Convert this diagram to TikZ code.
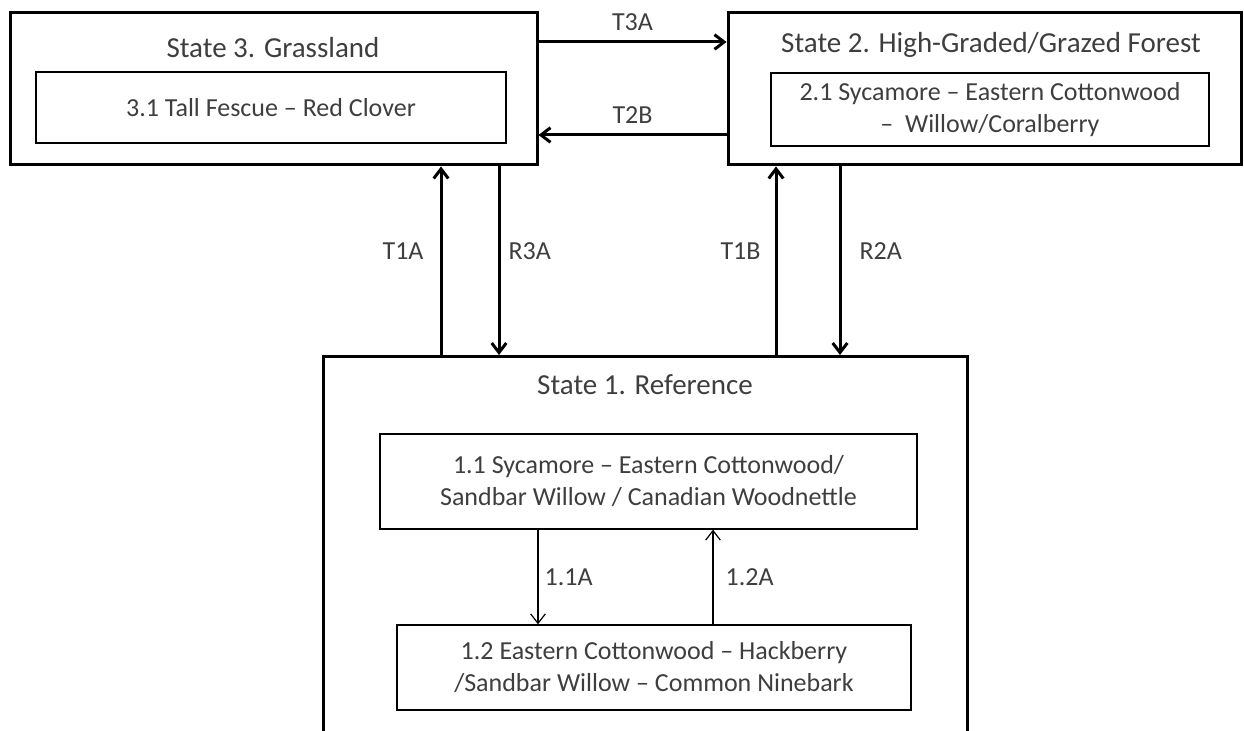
\documentclass[tikz,border=0pt]{standalone}
\usepackage{fontspec}
\setmainfont{Carlito}
\usetikzlibrary{arrows.meta,positioning}
\definecolor{inkgray}{RGB}{62,62,62}

\tikzset{
  statebox/.style={draw,line width=1.5pt,inner sep=0pt},
  phasebox/.style={draw,line width=0.6pt,align=center,text=inkgray,
    font=\fontsize{13}{16}\selectfont},
  heading/.style={text=inkgray,font=\fontsize{14.5}{17}\selectfont},
  lbl/.style={text=inkgray,font=\fontsize{13}{15}\selectfont,inner sep=1pt},
  thickarrow/.style={->,line width=1.5pt},
  thinarrow/.style={->,line width=0.6pt}
}

\begin{document}
\begin{tikzpicture}[x=0.5pt,y=-0.5pt,>={Straight Barb[angle=75:6pt]}]
  \useasboundingbox (0,0) rectangle (1244,731);
  \clip (0,0) rectangle (1244,731);

  % states
  \node[statebox,minimum width=263.5pt,minimum height=76pt] (s3) at (273.5,89) {};
  \node[statebox,minimum width=256.5pt,minimum height=76pt] (s2) at (984.5,89) {};
  \node[statebox,minimum width=322pt,minimum height=215pt,anchor=north] (s1) at (645,355) {};

  \node[heading] (h3) at (273,48) {State 3. Grassland};
  \node[heading] (h2) at (991,45) {State 2. High-Graded/Grazed Forest};
  \node[heading] (h1) at (645,385) {State 1. Reference};

  % community phases
  \node[phasebox,minimum width=235pt,minimum height=35.5pt] (p31) at (271,107.5) {3.1 Tall Fescue – Red Clover};
  \node[phasebox,minimum width=219pt,minimum height=36.5pt] (p21) at (990,109.5) {2.1 Sycamore – Eastern Cottonwood\\ –\ \ Willow/Coralberry};
  \node[phasebox,minimum width=268.5pt,minimum height=47.5pt] (p11) at (648.5,481.5) {1.1 Sycamore – Eastern Cottonwood/\\Sandbar Willow / Canadian Woodnettle};
  \node[phasebox,minimum width=257pt,minimum height=42.5pt] (p12) at (654,667.5) {1.2 Eastern Cottonwood – Hackberry\\/Sandbar Willow – Common Ninebark};

  % where the connectors run
  \coordinate (t3a) at (0,42);
  \coordinate (t2b) at (0,135);
  \coordinate (t1a) at (441,0);
  \coordinate (r3a) at (499,0);
  \coordinate (t1b) at (776,0);
  \coordinate (r2a) at (840,0);
  \coordinate (a11) at (538,0);
  \coordinate (a12) at (713,0);

  \draw[thickarrow] (s3.east |- t3a) -- node[lbl,above=4pt] {T3A} (s2.west |- t3a);
  \draw[thickarrow] (s2.west |- t2b) -- node[lbl,above=4pt] {T2B} (s3.east |- t2b);
  \draw[thickarrow] (s1.north -| t1a) -- node[lbl,left=7pt,pos=0.55] {T1A} (s3.south -| t1a);
  \draw[thickarrow] (s3.south -| r3a) -- node[lbl,right=3pt,pos=0.45] {R3A} (s1.north -| r3a);
  \draw[thickarrow] (s1.north -| t1b) -- node[lbl,left=6pt,pos=0.55] {T1B} (s2.south -| t1b);
  \draw[thickarrow] (s2.south -| r2a) -- node[lbl,right=8pt,pos=0.45] {R2A} (s1.north -| r2a);
  \draw[thinarrow] (p11.south -| a11) -- node[lbl,right=2pt] {1.1A} (p12.north -| a11);
  \draw[thinarrow] (p12.north -| a12) -- node[lbl,right=5pt] {1.2A} (p11.south -| a12);
\end{tikzpicture}
\end{document}
